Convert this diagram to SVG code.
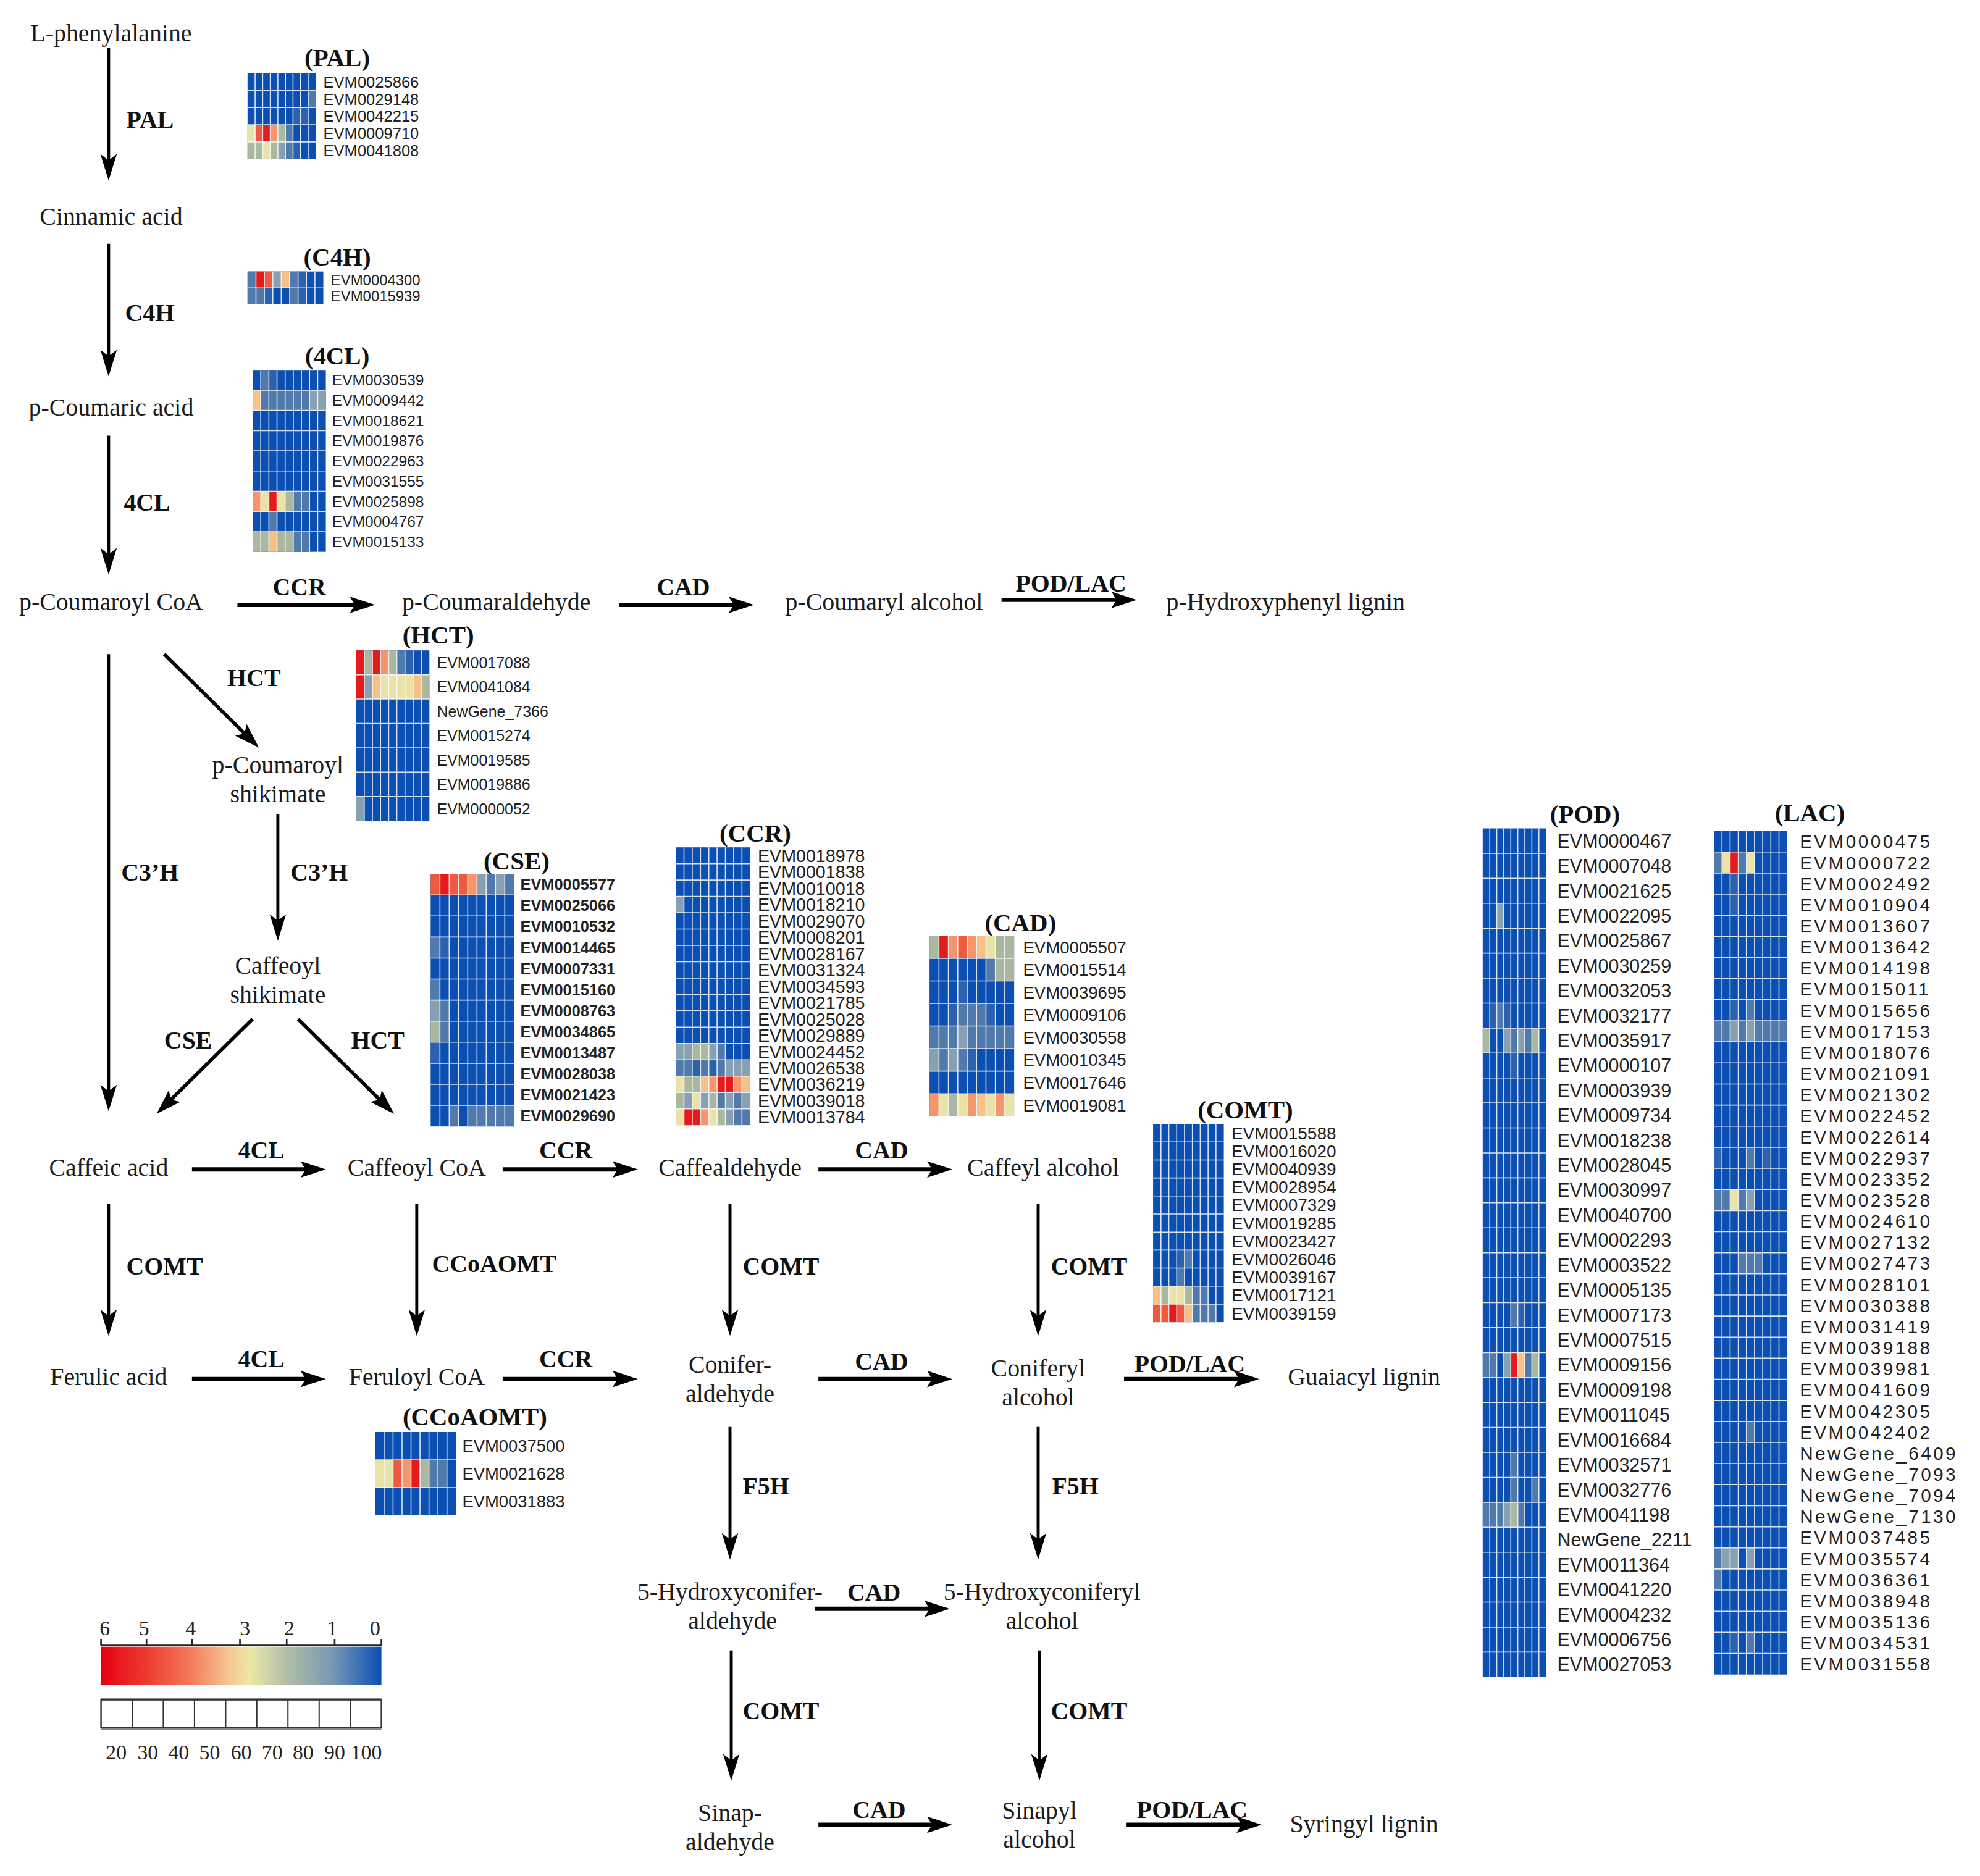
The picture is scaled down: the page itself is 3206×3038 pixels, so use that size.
<svg xmlns="http://www.w3.org/2000/svg" width="3206" height="3038" viewBox="0 0 3206 3038">
<style>
.n{font-family:"Liberation Serif","Times New Roman",serif;font-size:19.5px;fill:#1c1c1c;text-anchor:middle}
.e{font-family:"Liberation Serif","Times New Roman",serif;font-weight:bold;font-size:19.5px;fill:#111}
.ec{text-anchor:middle}
.t{font-family:"Liberation Serif","Times New Roman",serif;font-weight:bold;font-size:20px;fill:#111;text-anchor:middle}
.gl{font-family:"Liberation Sans",Arial,sans-serif;fill:#222}
.lg{font-family:"Liberation Serif","Times New Roman",serif;font-size:16.5px;fill:#222;text-anchor:middle}
.ah{stroke:#000;stroke-width:3.4;fill:none;marker-end:url(#mh)}
.ad{stroke:#000;stroke-width:2.8;fill:none;marker-end:url(#mh)}
.av{stroke:#000;stroke-width:2.4;fill:none;marker-end:url(#mv)}
.grid{fill:none;stroke:#fff;stroke-opacity:0.85;stroke-width:1.6;vector-effect:non-scaling-stroke}
.a{fill:#0b4fb3}.b{fill:#2c61ad}.m{fill:#5079ac}.g{fill:#87a0b2}.s{fill:#abb8a0}.y{fill:#e9e3a8}.o{fill:#f6c189}.q{fill:#f4956b}.x{fill:#ee5a3f}.r{fill:#e41a1c}
</style>
<defs>
<marker id="mh" markerUnits="userSpaceOnUse" orient="auto" overflow="visible" refX="0" refY="0" markerWidth="1" markerHeight="1">
<path d="M13,0 L-7,-6.5 L-3,0 L-7,6.5 Z" fill="#000"/>
</marker>
<marker id="mv" markerUnits="userSpaceOnUse" orient="auto" overflow="visible" refX="0" refY="0" markerWidth="1" markerHeight="1">
<path d="M12,0 L-9,-6.5 L-4,0 L-9,6.5 Z" fill="#000"/>
</marker>
<linearGradient id="lgGrad" x1="0" y1="0" x2="1" y2="0">
<stop offset="0" stop-color="#e60012"/>
<stop offset="0.16" stop-color="#ee3a30"/>
<stop offset="0.32" stop-color="#f47a5a"/>
<stop offset="0.45" stop-color="#f5c490"/>
<stop offset="0.53" stop-color="#ece8a6"/>
<stop offset="0.66" stop-color="#b2bfa8"/>
<stop offset="0.83" stop-color="#7596b4"/>
<stop offset="1" stop-color="#0a50b4"/>
</linearGradient>
</defs>
<rect width="3206" height="3038" fill="#fff"/>
<g transform="scale(2.045)">

<g id="connectors">
<line class="av" x1="86" y1="38" x2="86" y2="131"/>
<line class="av" x1="86" y1="193" x2="86" y2="286"/>
<line class="av" x1="86" y1="345" x2="86" y2="443"/>
<line class="ah" x1="188" y1="479" x2="284" y2="479"/>
<line class="ah" x1="490" y1="479" x2="584" y2="479"/>
<line class="ah" x1="793" y1="475" x2="887" y2="475"/>
<line class="av" x1="86" y1="518" x2="86" y2="868"/>
<line class="ad" x1="130" y1="518" x2="195.75" y2="582.87"/>
<line class="av" x1="220" y1="645" x2="220" y2="733"/>
<line class="ad" x1="200" y1="807" x2="133.25" y2="872.87"/>
<line class="ad" x1="236" y1="807" x2="302.75" y2="872.87"/>
<line class="ah" x1="152" y1="926" x2="245" y2="926"/>
<line class="ah" x1="398" y1="926" x2="492" y2="926"/>
<line class="ah" x1="648" y1="926" x2="741" y2="926"/>
<line class="av" x1="86" y1="953" x2="86" y2="1046"/>
<line class="av" x1="330" y1="953" x2="330" y2="1046"/>
<line class="av" x1="578" y1="953" x2="578" y2="1046"/>
<line class="av" x1="822" y1="953" x2="822" y2="1046"/>
<line class="ah" x1="152" y1="1092" x2="245" y2="1092"/>
<line class="ah" x1="398" y1="1092" x2="492" y2="1092"/>
<line class="ah" x1="648" y1="1092" x2="741" y2="1092"/>
<line class="ah" x1="890" y1="1092" x2="984" y2="1092"/>
<line class="av" x1="578" y1="1130" x2="578" y2="1223"/>
<line class="av" x1="822" y1="1130" x2="822" y2="1223"/>
<line class="ah" x1="645" y1="1274" x2="739" y2="1274"/>
<line class="av" x1="579" y1="1307" x2="579" y2="1398"/>
<line class="av" x1="823" y1="1307" x2="823" y2="1398"/>
<line class="ah" x1="648" y1="1445" x2="741" y2="1445"/>
<line class="ah" x1="892" y1="1445" x2="986" y2="1445"/>
<g id="edge-labels">
<text class="e" x="100" y="101">PAL</text>
<text class="e" x="99" y="254.5">C4H</text>
<text class="e" x="98" y="404.5">4CL</text>
<text class="e ec" x="237" y="471.5">CCR</text>
<text class="e ec" x="541" y="471.5">CAD</text>
<text class="e ec" x="848" y="468.5">POD/LAC</text>
<text class="e" x="180" y="543.5">HCT</text>
<text class="e" x="96" y="697.5">C3’H</text>
<text class="e" x="230" y="697.5">C3’H</text>
<text class="e" x="130" y="830.5">CSE</text>
<text class="e" x="278" y="830.5">HCT</text>
<text class="e ec" x="207" y="917.5">4CL</text>
<text class="e ec" x="448" y="917.5">CCR</text>
<text class="e ec" x="698" y="917.5">CAD</text>
<text class="e" x="100" y="1009.5">COMT</text>
<text class="e" x="342" y="1007.5">CCoAOMT</text>
<text class="e" x="588" y="1009.5">COMT</text>
<text class="e" x="832" y="1009.5">COMT</text>
<text class="e ec" x="207" y="1082.5">4CL</text>
<text class="e ec" x="448" y="1082.5">CCR</text>
<text class="e ec" x="698" y="1084.5">CAD</text>
<text class="e ec" x="942" y="1086.5">POD/LAC</text>
<text class="e" x="588" y="1183.5">F5H</text>
<text class="e" x="833" y="1183.5">F5H</text>
<text class="e ec" x="692" y="1267.5">CAD</text>
<text class="e" x="588" y="1361.5">COMT</text>
<text class="e" x="832" y="1361.5">COMT</text>
<text class="e ec" x="696" y="1439.5">CAD</text>
<text class="e ec" x="944" y="1439.5">POD/LAC</text>
</g>
</g>

<g id="node-lphe"><text class="n" x="88" y="33">L-phenylalanine</text></g>
<g id="node-cinnamic"><text class="n" x="88" y="178">Cinnamic acid</text></g>
<g id="node-pcoumaric"><text class="n" x="88" y="329">p-Coumaric acid</text></g>
<g id="node-pcoumaroylcoa"><text class="n" x="88" y="483">p-Coumaroyl CoA</text></g>
<g id="node-pcoumaraldehyde"><text class="n" x="393" y="483">p-Coumaraldehyde</text></g>
<g id="node-pcoumarylalcohol"><text class="n" x="700" y="483">p-Coumaryl alcohol</text></g>
<g id="node-hlignin"><text class="n" x="1018" y="483">p-Hydroxyphenyl lignin</text></g>
<g id="node-pcoumaroylshik"><text class="n" x="220" y="612">p-Coumaroyl</text><text class="n" x="220" y="635">shikimate</text></g>
<g id="node-caffeoylshik"><text class="n" x="220" y="771">Caffeoyl</text><text class="n" x="220" y="794">shikimate</text></g>
<g id="node-caffeic"><text class="n" x="86" y="931">Caffeic acid</text></g>
<g id="node-caffeoylcoa"><text class="n" x="330" y="931">Caffeoyl CoA</text></g>
<g id="node-caffealdehyde"><text class="n" x="578" y="931">Caffealdehyde</text></g>
<g id="node-caffeylalcohol"><text class="n" x="826" y="931">Caffeyl alcohol</text></g>
<g id="node-ferulic"><text class="n" x="86" y="1097">Ferulic acid</text></g>
<g id="node-feruloylcoa"><text class="n" x="330" y="1097">Feruloyl CoA</text></g>
<g id="node-coniferaldehyde"><text class="n" x="578" y="1087">Conifer-</text><text class="n" x="578" y="1110">aldehyde</text></g>
<g id="node-coniferylalcohol"><text class="n" x="822" y="1090">Coniferyl</text><text class="n" x="822" y="1113">alcohol</text></g>
<g id="node-glignin"><text class="n" x="1080" y="1097">Guaiacyl lignin</text></g>
<g id="node-5hconiferaldehyde"><text class="n" x="578" y="1267">5-Hydroxyconifer-</text><text class="n" x="580" y="1290">aldehyde</text></g>
<g id="node-5hconiferylalcohol"><text class="n" x="825" y="1267">5-Hydroxyconiferyl</text><text class="n" x="825" y="1290">alcohol</text></g>
<g id="node-sinapaldehyde"><text class="n" x="578" y="1442">Sinap-</text><text class="n" x="578" y="1465">aldehyde</text></g>
<g id="node-sinapylalcohol"><text class="n" x="823" y="1440">Sinapyl</text><text class="n" x="823" y="1463">alcohol</text></g>
<g id="node-slignin"><text class="n" x="1080" y="1451">Syringyl lignin</text></g>

<!-- PAL heatmap -->
<g id="heatmap-PAL">
<text class="t" x="267" y="52.5">(PAL)</text>
<g transform="translate(196,58) scale(6,13.6)">
<rect class="a" width="9" height="5"/>
<rect class="m" x="8" y="1" width="1" height="1"/>
<rect class="b" x="6" y="2" width="2" height="1"/>
<rect class="y" x="0" y="3" width="1" height="1"/><rect class="x" x="1" y="3" width="1" height="1"/><rect class="r" x="2" y="3" width="1" height="1"/><rect class="q" x="3" y="3" width="1" height="1"/><rect class="s" x="4" y="3" width="1" height="1"/><rect class="m" x="5" y="3" width="1" height="1"/>
<rect class="s" x="0" y="4" width="2" height="1"/><rect class="y" x="2" y="4" width="1" height="1"/><rect class="s" x="3" y="4" width="1" height="1"/><rect class="g" x="4" y="4" width="1" height="1"/><rect class="m" x="5" y="4" width="1" height="1"/><rect class="b" x="6" y="4" width="1" height="1"/>
<path class="grid" d="M1 0V5M2 0V5M3 0V5M4 0V5M5 0V5M6 0V5M7 0V5M8 0V5M0 1H9M0 2H9M0 3H9M0 4H9"/>
</g>
<text class="gl" font-size="12.5">
<tspan x="256" y="69.3">EVM0025866</tspan><tspan x="256" y="82.9">EVM0029148</tspan><tspan x="256" y="96.5">EVM0042215</tspan><tspan x="256" y="110.1">EVM0009710</tspan><tspan x="256" y="123.7">EVM0041808</tspan>
</text>
</g>

<!-- C4H heatmap -->
<g id="heatmap-C4H">
<text class="t" x="267" y="210.5">(C4H)</text>
<g transform="translate(196,215) scale(6.667,13)">
<rect class="a" width="9" height="2"/>
<rect class="m" x="0" y="0" width="1" height="1"/><rect class="r" x="1" y="0" width="1" height="1"/><rect class="x" x="2" y="0" width="1" height="1"/><rect class="g" x="3" y="0" width="1" height="1"/><rect class="o" x="4" y="0" width="1" height="1"/><rect class="m" x="5" y="0" width="1" height="1"/><rect class="b" x="6" y="0" width="1" height="1"/>
<rect class="m" x="0" y="1" width="2" height="1"/><rect class="b" x="2" y="1" width="1" height="1"/><rect class="m" x="5" y="1" width="1" height="1"/><rect class="b" x="6" y="1" width="1" height="1"/>
<path class="grid" d="M1 0V2M2 0V2M3 0V2M4 0V2M5 0V2M6 0V2M7 0V2M8 0V2M0 1H9"/>
</g>
<text class="gl" font-size="11.7">
<tspan x="262" y="225.7">EVM0004300</tspan><tspan x="262" y="238.7">EVM0015939</tspan>
</text>
</g>

<!-- 4CL heatmap -->
<g id="heatmap-4CL">
<text class="t" x="267" y="288.5">(4CL)</text>
<g transform="translate(200,293) scale(6.444,16)">
<rect class="a" width="9" height="9"/>
<rect class="m" x="1" y="0" width="1" height="1"/><rect class="b" x="2" y="0" width="1" height="1"/>
<rect class="o" x="0" y="1" width="1" height="1"/><rect class="m" x="1" y="1" width="6" height="1"/><rect class="g" x="7" y="1" width="2" height="1"/>
<rect class="q" x="0" y="6" width="1" height="1"/><rect class="y" x="1" y="6" width="1" height="1"/><rect class="r" x="2" y="6" width="1" height="1"/><rect class="y" x="3" y="6" width="1" height="1"/><rect class="s" x="4" y="6" width="1" height="1"/><rect class="m" x="5" y="6" width="2" height="1"/>
<rect class="m" x="2" y="7" width="1" height="1"/>
<rect class="s" x="0" y="8" width="2" height="1"/><rect class="o" x="2" y="8" width="1" height="1"/><rect class="s" x="3" y="8" width="2" height="1"/><rect class="m" x="5" y="8" width="2" height="1"/>
<path class="grid" d="M1 0V9M2 0V9M3 0V9M4 0V9M5 0V9M6 0V9M7 0V9M8 0V9M0 1H9M0 2H9M0 3H9M0 4H9M0 5H9M0 6H9M0 7H9M0 8H9"/>
</g>
<text class="gl" font-size="12">
<tspan x="263" y="305.3">EVM0030539</tspan><tspan x="263" y="321.3">EVM0009442</tspan><tspan x="263" y="337.3">EVM0018621</tspan><tspan x="263" y="353.3">EVM0019876</tspan><tspan x="263" y="369.3">EVM0022963</tspan><tspan x="263" y="385.3">EVM0031555</tspan><tspan x="263" y="401.3">EVM0025898</tspan><tspan x="263" y="417.3">EVM0004767</tspan><tspan x="263" y="433.3">EVM0015133</tspan>
</text>
</g>

<!-- HCT heatmap -->
<g id="heatmap-HCT">
<text class="t" x="347" y="509.5">(HCT)</text>
<g transform="translate(282,515) scale(6.444,19.286)">
<rect class="a" width="9" height="7"/>
<rect class="r" x="0" y="0" width="1" height="1"/><rect class="s" x="1" y="0" width="1" height="1"/><rect class="r" x="2" y="0" width="1" height="1"/><rect class="q" x="3" y="0" width="1" height="1"/><rect class="s" x="4" y="0" width="1" height="1"/><rect class="m" x="5" y="0" width="1" height="1"/><rect class="b" x="6" y="0" width="1" height="1"/>
<rect class="r" x="0" y="1" width="1" height="1"/><rect class="g" x="1" y="1" width="1" height="1"/><rect class="o" x="2" y="1" width="1" height="1"/><rect class="y" x="3" y="1" width="4" height="1"/><rect class="o" x="7" y="1" width="1" height="1"/><rect class="s" x="8" y="1" width="1" height="1"/>
<rect class="g" x="0" y="6" width="1" height="1"/>
<path class="grid" d="M1 0V7M2 0V7M3 0V7M4 0V7M5 0V7M6 0V7M7 0V7M8 0V7M0 1H9M0 2H9M0 3H9M0 4H9M0 5H9M0 6H9"/>
</g>
<text class="gl" font-size="12.2">
<tspan x="346" y="529">EVM0017088</tspan><tspan x="346" y="548.3">EVM0041084</tspan><tspan x="346" y="567.6">NewGene_7366</tspan><tspan x="346" y="586.9">EVM0015274</tspan><tspan x="346" y="606.2">EVM0019585</tspan><tspan x="346" y="625.5">EVM0019886</tspan><tspan x="346" y="644.8">EVM0000052</tspan>
</text>
</g>

<!-- CSE heatmap -->
<g id="heatmap-CSE">
<text class="t" x="409" y="688.5">(CSE)</text>
<g transform="translate(341,692) scale(7.333,16.667)">
<rect class="a" width="9" height="12"/>
<rect class="x" x="0" y="0" width="1" height="1"/><rect class="r" x="1" y="0" width="1" height="1"/><rect class="x" x="2" y="0" width="2" height="1"/><rect class="q" x="4" y="0" width="1" height="1"/><rect class="g" x="5" y="0" width="1" height="1"/><rect class="m" x="6" y="0" width="1" height="1"/><rect class="g" x="7" y="0" width="1" height="1"/><rect class="m" x="8" y="0" width="1" height="1"/>
<rect class="m" x="0" y="3" width="1" height="1"/><rect class="b" x="1" y="3" width="1" height="1"/>
<rect class="m" x="0" y="5" width="1" height="1"/>
<rect class="g" x="0" y="6" width="1" height="1"/><rect class="m" x="1" y="6" width="1" height="1"/>
<rect class="s" x="0" y="7" width="1" height="1"/><rect class="m" x="1" y="7" width="1" height="1"/>
<rect class="b" x="0" y="8" width="1" height="1"/>
<rect class="m" x="2" y="11" width="1" height="1"/><rect class="m" x="4" y="11" width="5" height="1"/>
<path class="grid" d="M1 0V12M2 0V12M3 0V12M4 0V12M5 0V12M6 0V12M7 0V12M8 0V12M0 1H9M0 2H9M0 3H9M0 4H9M0 5H9M0 6H9M0 7H9M0 8H9M0 9H9M0 10H9M0 11H9"/>
</g>
<text class="gl" font-size="12.4" font-weight="bold">
<tspan x="412" y="704.8">EVM0005577</tspan><tspan x="412" y="721.5">EVM0025066</tspan><tspan x="412" y="738.1">EVM0010532</tspan><tspan x="412" y="754.8">EVM0014465</tspan><tspan x="412" y="771.5">EVM0007331</tspan><tspan x="412" y="788.2">EVM0015160</tspan><tspan x="412" y="804.8">EVM0008763</tspan><tspan x="412" y="821.5">EVM0034865</tspan><tspan x="412" y="838.2">EVM0013487</tspan><tspan x="412" y="854.8">EVM0028038</tspan><tspan x="412" y="871.5">EVM0021423</tspan><tspan x="412" y="888.2">EVM0029690</tspan>
</text>
</g>

<!-- CCR heatmap -->
<g id="heatmap-CCR">
<text class="t" x="598" y="666.5">(CCR)</text>
<g transform="translate(535,671) scale(6.556,12.941)">
<rect class="a" width="9" height="17"/>
<rect class="g" x="0" y="3" width="1" height="1"/>
<rect class="g" x="0" y="12" width="2" height="1"/><rect class="s" x="2" y="12" width="2" height="1"/><rect class="g" x="4" y="12" width="1" height="1"/><rect class="m" x="5" y="12" width="1" height="1"/>
<rect class="m" x="0" y="13" width="2" height="1"/><rect class="b" x="2" y="13" width="1" height="1"/><rect class="m" x="3" y="13" width="1" height="1"/><rect class="b" x="4" y="13" width="1" height="1"/><rect class="m" x="5" y="13" width="1" height="1"/><rect class="g" x="6" y="13" width="3" height="1"/>
<rect class="y" x="0" y="14" width="1" height="1"/><rect class="s" x="1" y="14" width="2" height="1"/><rect class="o" x="3" y="14" width="1" height="1"/><rect class="q" x="4" y="14" width="1" height="1"/><rect class="r" x="5" y="14" width="2" height="1"/><rect class="q" x="7" y="14" width="1" height="1"/><rect class="o" x="8" y="14" width="1" height="1"/>
<rect class="s" x="0" y="15" width="1" height="1"/><rect class="g" x="1" y="15" width="1" height="1"/><rect class="y" x="2" y="15" width="1" height="1"/><rect class="g" x="3" y="15" width="1" height="1"/><rect class="s" x="4" y="15" width="1" height="1"/><rect class="m" x="5" y="15" width="1" height="1"/><rect class="g" x="6" y="15" width="1" height="1"/><rect class="m" x="7" y="15" width="1" height="1"/><rect class="g" x="8" y="15" width="1" height="1"/>
<rect class="y" x="0" y="16" width="1" height="1"/><rect class="r" x="1" y="16" width="2" height="1"/><rect class="q" x="3" y="16" width="1" height="1"/><rect class="y" x="4" y="16" width="1" height="1"/><rect class="s" x="5" y="16" width="1" height="1"/><rect class="g" x="6" y="16" width="1" height="1"/><rect class="m" x="7" y="16" width="2" height="1"/>
<path class="grid" d="M1 0V17M2 0V17M3 0V17M4 0V17M5 0V17M6 0V17M7 0V17M8 0V17M0 1H9M0 2H9M0 3H9M0 4H9M0 5H9M0 6H9M0 7H9M0 8H9M0 9H9M0 10H9M0 11H9M0 12H9M0 13H9M0 14H9M0 15H9M0 16H9"/>
</g>
<text class="gl" font-size="14">
<tspan x="600" y="682.6">EVM0018978</tspan><tspan x="600" y="695.5">EVM0001838</tspan><tspan x="600" y="708.5">EVM0010018</tspan><tspan x="600" y="721.4">EVM0018210</tspan><tspan x="600" y="734.4">EVM0029070</tspan><tspan x="600" y="747.3">EVM0008201</tspan><tspan x="600" y="760.2">EVM0028167</tspan><tspan x="600" y="773.2">EVM0031324</tspan><tspan x="600" y="786.1">EVM0034593</tspan><tspan x="600" y="799.1">EVM0021785</tspan><tspan x="600" y="812">EVM0025028</tspan><tspan x="600" y="824.9">EVM0029889</tspan><tspan x="600" y="837.9">EVM0024452</tspan><tspan x="600" y="850.8">EVM0026538</tspan><tspan x="600" y="863.8">EVM0036219</tspan><tspan x="600" y="876.7">EVM0039018</tspan><tspan x="600" y="889.6">EVM0013784</tspan>
</text>
</g>

<!-- CAD heatmap -->
<g id="heatmap-CAD">
<text class="t" x="808" y="737.5">(CAD)</text>
<g transform="translate(736,741) scale(7.444,17.875)">
<rect class="a" width="9" height="8"/>
<rect class="s" x="0" y="0" width="1" height="1"/><rect class="r" x="1" y="0" width="1" height="1"/><rect class="q" x="2" y="0" width="1" height="1"/><rect class="x" x="3" y="0" width="1" height="1"/><rect class="q" x="4" y="0" width="1" height="1"/><rect class="o" x="5" y="0" width="1" height="1"/><rect class="y" x="6" y="0" width="1" height="1"/><rect class="s" x="7" y="0" width="2" height="1"/>
<rect class="m" x="6" y="1" width="1" height="1"/><rect class="s" x="7" y="1" width="2" height="1"/>
<rect class="b" x="3" y="2" width="1" height="1"/>
<rect class="b" x="2" y="3" width="1" height="1"/><rect class="m" x="3" y="3" width="3" height="1"/><rect class="b" x="6" y="3" width="1" height="1"/>
<rect class="m" x="0" y="4" width="9" height="1"/><rect class="g" x="3" y="4" width="1" height="1"/>
<rect class="g" x="0" y="5" width="1" height="1"/><rect class="m" x="1" y="5" width="1" height="1"/><rect class="g" x="2" y="5" width="1" height="1"/><rect class="m" x="3" y="5" width="1" height="1"/><rect class="b" x="4" y="5" width="1" height="1"/>
<rect class="q" x="0" y="7" width="1" height="1"/><rect class="y" x="1" y="7" width="1" height="1"/><rect class="s" x="2" y="7" width="1" height="1"/><rect class="y" x="3" y="7" width="1" height="1"/><rect class="q" x="4" y="7" width="1" height="1"/><rect class="o" x="5" y="7" width="1" height="1"/><rect class="y" x="6" y="7" width="1" height="1"/><rect class="q" x="7" y="7" width="1" height="1"/><rect class="y" x="8" y="7" width="1" height="1"/>
<path class="grid" d="M1 0V8M2 0V8M3 0V8M4 0V8M5 0V8M6 0V8M7 0V8M8 0V8M0 1H9M0 2H9M0 3H9M0 4H9M0 5H9M0 6H9M0 7H9"/>
</g>
<text class="gl" font-size="13.5">
<tspan x="810" y="754.8">EVM0005507</tspan><tspan x="810" y="772.7">EVM0015514</tspan><tspan x="810" y="790.6">EVM0039695</tspan><tspan x="810" y="808.5">EVM0009106</tspan><tspan x="810" y="826.3">EVM0030558</tspan><tspan x="810" y="844.2">EVM0010345</tspan><tspan x="810" y="862.1">EVM0017646</tspan><tspan x="810" y="880">EVM0019081</tspan>
</text>
</g>

<!-- COMT heatmap -->
<g id="heatmap-COMT">
<text class="t" x="986" y="885.5">(COMT)</text>
<g transform="translate(913,890) scale(6.222,14.273)">
<rect class="a" width="9" height="11"/>
<rect class="b" x="3" y="7" width="1" height="1"/><rect class="m" x="4" y="7" width="1" height="1"/>
<rect class="m" x="3" y="8" width="1" height="1"/>
<rect class="o" x="0" y="9" width="1" height="1"/><rect class="s" x="1" y="9" width="1" height="1"/><rect class="y" x="2" y="9" width="2" height="1"/><rect class="s" x="4" y="9" width="1" height="1"/><rect class="m" x="5" y="9" width="2" height="1"/>
<rect class="x" x="0" y="10" width="2" height="1"/><rect class="r" x="2" y="10" width="1" height="1"/><rect class="x" x="3" y="10" width="1" height="1"/><rect class="o" x="4" y="10" width="1" height="1"/><rect class="m" x="5" y="10" width="3" height="1"/>
<path class="grid" d="M1 0V11M2 0V11M3 0V11M4 0V11M5 0V11M6 0V11M7 0V11M8 0V11M0 1H9M0 2H9M0 3H9M0 4H9M0 5H9M0 6H9M0 7H9M0 8H9M0 9H9M0 10H9"/>
</g>
<text class="gl" font-size="13.7">
<tspan x="975" y="902">EVM0015588</tspan><tspan x="975" y="916.3">EVM0016020</tspan><tspan x="975" y="930.6">EVM0040939</tspan><tspan x="975" y="944.9">EVM0028954</tspan><tspan x="975" y="959.1">EVM0007329</tspan><tspan x="975" y="973.4">EVM0019285</tspan><tspan x="975" y="987.7">EVM0023427</tspan><tspan x="975" y="1002">EVM0026046</tspan><tspan x="975" y="1016.2">EVM0039167</tspan><tspan x="975" y="1030.5">EVM0017121</tspan><tspan x="975" y="1044.8">EVM0039159</tspan>
</text>
</g>

<!-- CCoAOMT heatmap -->
<g id="heatmap-CCoAOMT">
<text class="t" x="376" y="1128.5">(CCoAOMT)</text>
<g transform="translate(297,1134) scale(7.111,22)">
<rect class="a" width="9" height="3"/>
<rect class="y" x="0" y="1" width="2" height="1"/><rect class="x" x="2" y="1" width="1" height="1"/><rect class="q" x="3" y="1" width="1" height="1"/><rect class="r" x="4" y="1" width="1" height="1"/><rect class="s" x="5" y="1" width="1" height="1"/><rect class="m" x="6" y="1" width="2" height="1"/>
<path class="grid" d="M1 0V3M2 0V3M3 0V3M4 0V3M5 0V3M6 0V3M7 0V3M8 0V3M0 1H9M0 2H9"/>
</g>
<text class="gl" font-size="13.4">
<tspan x="366" y="1149.8">EVM0037500</tspan><tspan x="366" y="1171.8">EVM0021628</tspan><tspan x="366" y="1193.8">EVM0031883</tspan>
</text>
</g>

<!-- POD heatmap -->
<g id="heatmap-POD">
<text class="t" x="1255" y="651.5">(POD)</text>
<g transform="translate(1174,656) scale(5.556,19.765)">
<rect class="a" width="9" height="34"/>
<rect class="g" x="2" y="3" width="1" height="1"/>
<rect class="b" x="1" y="7" width="1" height="1"/><rect class="m" x="2" y="7" width="1" height="1"/><rect class="b" x="3" y="7" width="1" height="1"/>
<rect class="s" x="0" y="8" width="1" height="1"/><rect class="g" x="3" y="8" width="1" height="1"/><rect class="m" x="4" y="8" width="1" height="1"/><rect class="g" x="5" y="8" width="1" height="1"/><rect class="m" x="6" y="8" width="1" height="1"/><rect class="s" x="7" y="8" width="1" height="1"/>
<rect class="b" x="4" y="9" width="1" height="1"/>
<rect class="m" x="4" y="19" width="1" height="1"/><rect class="b" x="5" y="19" width="1" height="1"/>
<rect class="m" x="0" y="21" width="2" height="1"/><rect class="g" x="3" y="21" width="1" height="1"/><rect class="r" x="4" y="21" width="1" height="1"/><rect class="o" x="5" y="21" width="1" height="1"/><rect class="m" x="6" y="21" width="1" height="1"/><rect class="s" x="7" y="21" width="1" height="1"/>
<rect class="m" x="4" y="25" width="1" height="1"/>
<rect class="m" x="4" y="26" width="1" height="1"/><rect class="m" x="7" y="26" width="1" height="1"/>
<rect class="m" x="0" y="27" width="3" height="1"/><rect class="g" x="3" y="27" width="1" height="1"/><rect class="s" x="4" y="27" width="1" height="1"/><rect class="m" x="5" y="27" width="1" height="1"/>
<path class="grid" d="M1 0V34M2 0V34M3 0V34M4 0V34M5 0V34M6 0V34M7 0V34M8 0V34M0 1H9M0 2H9M0 3H9M0 4H9M0 5H9M0 6H9M0 7H9M0 8H9M0 9H9M0 10H9M0 11H9M0 12H9M0 13H9M0 14H9M0 15H9M0 16H9M0 17H9M0 18H9M0 19H9M0 20H9M0 21H9M0 22H9M0 23H9M0 24H9M0 25H9M0 26H9M0 27H9M0 28H9M0 29H9M0 30H9M0 31H9M0 32H9M0 33H9"/>
</g>
<text class="gl" font-size="14.9">
<tspan x="1233" y="671.3">EVM0000467</tspan><tspan x="1233" y="691.1">EVM0007048</tspan><tspan x="1233" y="710.8">EVM0021625</tspan><tspan x="1233" y="730.6">EVM0022095</tspan><tspan x="1233" y="750.3">EVM0025867</tspan><tspan x="1233" y="770.1">EVM0030259</tspan><tspan x="1233" y="789.9">EVM0032053</tspan><tspan x="1233" y="809.6">EVM0032177</tspan><tspan x="1233" y="829.4">EVM0035917</tspan><tspan x="1233" y="849.1">EVM0000107</tspan><tspan x="1233" y="868.9">EVM0003939</tspan><tspan x="1233" y="888.7">EVM0009734</tspan><tspan x="1233" y="908.4">EVM0018238</tspan><tspan x="1233" y="928.2">EVM0028045</tspan><tspan x="1233" y="947.9">EVM0030997</tspan><tspan x="1233" y="967.7">EVM0040700</tspan><tspan x="1233" y="987.5">EVM0002293</tspan><tspan x="1233" y="1007.2">EVM0003522</tspan><tspan x="1233" y="1027">EVM0005135</tspan><tspan x="1233" y="1046.7">EVM0007173</tspan><tspan x="1233" y="1066.5">EVM0007515</tspan><tspan x="1233" y="1086.3">EVM0009156</tspan><tspan x="1233" y="1106">EVM0009198</tspan><tspan x="1233" y="1125.8">EVM0011045</tspan><tspan x="1233" y="1145.5">EVM0016684</tspan><tspan x="1233" y="1165.3">EVM0032571</tspan><tspan x="1233" y="1185.1">EVM0032776</tspan><tspan x="1233" y="1204.8">EVM0041198</tspan><tspan x="1233" y="1224.6">NewGene_2211</tspan><tspan x="1233" y="1244.3">EVM0011364</tspan><tspan x="1233" y="1264.1">EVM0041220</tspan><tspan x="1233" y="1283.9">EVM0004232</tspan><tspan x="1233" y="1303.6">EVM0006756</tspan><tspan x="1233" y="1323.4">EVM0027053</tspan>
</text>
</g>

<!-- LAC heatmap -->
<g id="heatmap-LAC">
<text class="t" x="1433" y="650.5">(LAC)</text>
<g transform="translate(1357,658) scale(6.444,16.7)">
<rect class="a" width="9" height="40"/>
<rect class="m" x="0" y="1" width="1" height="1"/><rect class="y" x="1" y="1" width="1" height="1"/><rect class="r" x="2" y="1" width="1" height="1"/><rect class="m" x="3" y="1" width="1" height="1"/><rect class="y" x="4" y="1" width="1" height="1"/>
<rect class="b" x="2" y="2" width="1" height="1"/>
<rect class="b" x="2" y="3" width="1" height="1"/>
<rect class="b" x="2" y="8" width="1" height="1"/><rect class="m" x="4" y="8" width="1" height="1"/>
<rect class="m" x="0" y="9" width="9" height="1"/><rect class="g" x="2" y="9" width="1" height="1"/><rect class="g" x="4" y="9" width="1" height="1"/>
<rect class="b" x="0" y="15" width="1" height="1"/><rect class="m" x="4" y="15" width="1" height="1"/><rect class="b" x="6" y="15" width="1" height="1"/>
<rect class="m" x="0" y="17" width="2" height="1"/><rect class="y" x="2" y="17" width="1" height="1"/><rect class="m" x="3" y="17" width="1" height="1"/><rect class="g" x="4" y="17" width="1" height="1"/>
<rect class="m" x="3" y="20" width="3" height="1"/>
<rect class="m" x="4" y="28" width="1" height="1"/>
<rect class="m" x="0" y="34" width="1" height="1"/><rect class="g" x="1" y="34" width="2" height="1"/><rect class="g" x="4" y="34" width="1" height="1"/>
<rect class="m" x="0" y="35" width="1" height="1"/>
<rect class="b" x="2" y="38" width="1" height="1"/><rect class="m" x="4" y="38" width="1" height="1"/>
<path class="grid" d="M1 0V40M2 0V40M3 0V40M4 0V40M5 0V40M6 0V40M7 0V40M8 0V40M0 1H9M0 2H9M0 3H9M0 4H9M0 5H9M0 6H9M0 7H9M0 8H9M0 9H9M0 10H9M0 11H9M0 12H9M0 13H9M0 14H9M0 15H9M0 16H9M0 17H9M0 18H9M0 19H9M0 20H9M0 21H9M0 22H9M0 23H9M0 24H9M0 25H9M0 26H9M0 27H9M0 28H9M0 29H9M0 30H9M0 31H9M0 32H9M0 33H9M0 34H9M0 35H9M0 36H9M0 37H9M0 38H9M0 39H9"/>
</g>
<text class="gl" font-size="14.5" letter-spacing="1.7">
<tspan x="1425" y="671.6">EVM0000475</tspan><tspan x="1425" y="688.3">EVM0000722</tspan><tspan x="1425" y="705">EVM0002492</tspan><tspan x="1425" y="721.7">EVM0010904</tspan><tspan x="1425" y="738.4">EVM0013607</tspan><tspan x="1425" y="755.1">EVM0013642</tspan><tspan x="1425" y="771.8">EVM0014198</tspan><tspan x="1425" y="788.5">EVM0015011</tspan><tspan x="1425" y="805.2">EVM0015656</tspan><tspan x="1425" y="821.9">EVM0017153</tspan><tspan x="1425" y="838.6">EVM0018076</tspan><tspan x="1425" y="855.3">EVM0021091</tspan><tspan x="1425" y="872">EVM0021302</tspan><tspan x="1425" y="888.7">EVM0022452</tspan><tspan x="1425" y="905.4">EVM0022614</tspan><tspan x="1425" y="922.1">EVM0022937</tspan><tspan x="1425" y="938.8">EVM0023352</tspan><tspan x="1425" y="955.5">EVM0023528</tspan><tspan x="1425" y="972.2">EVM0024610</tspan><tspan x="1425" y="988.9">EVM0027132</tspan><tspan x="1425" y="1005.6">EVM0027473</tspan><tspan x="1425" y="1022.3">EVM0028101</tspan><tspan x="1425" y="1039">EVM0030388</tspan><tspan x="1425" y="1055.7">EVM0031419</tspan><tspan x="1425" y="1072.4">EVM0039188</tspan><tspan x="1425" y="1089.1">EVM0039981</tspan><tspan x="1425" y="1105.8">EVM0041609</tspan><tspan x="1425" y="1122.5">EVM0042305</tspan><tspan x="1425" y="1139.2">EVM0042402</tspan><tspan x="1425" y="1155.9">NewGene_6409</tspan><tspan x="1425" y="1172.6">NewGene_7093</tspan><tspan x="1425" y="1189.3">NewGene_7094</tspan><tspan x="1425" y="1206">NewGene_7130</tspan><tspan x="1425" y="1222.7">EVM0037485</tspan><tspan x="1425" y="1239.4">EVM0035574</tspan><tspan x="1425" y="1256.1">EVM0036361</tspan><tspan x="1425" y="1272.8">EVM0038948</tspan><tspan x="1425" y="1289.5">EVM0035136</tspan><tspan x="1425" y="1306.2">EVM0034531</tspan><tspan x="1425" y="1322.9">EVM0031558</tspan>
</text>
</g>

<!-- Legend -->
<g id="legend">
<text class="lg" x="83" y="1295">6</text><text class="lg" x="114" y="1295">5</text><text class="lg" x="151" y="1295">4</text><text class="lg" x="194" y="1295">3</text><text class="lg" x="229" y="1295">2</text><text class="lg" x="263" y="1295">1</text><text class="lg" x="297" y="1295">0</text>
<path d="M80 1303H302M80 1303V1298M116 1303V1298M152 1303V1298M190 1303V1298M227 1303V1298M265 1303V1298M302 1303V1298" fill="none" stroke="#222" stroke-width="1.3"/>
<rect x="80" y="1304" width="222" height="30" fill="url(#lgGrad)"/>
<rect x="80" y="1346" width="222" height="22" fill="#fff" stroke="#333" stroke-width="1.2"/>
<path d="M104.7 1346V1368M129.3 1346V1368M154 1346V1368M178.7 1346V1368M203.3 1346V1368M228 1346V1368M252.7 1346V1368M277.3 1346V1368" fill="none" stroke="#333" stroke-width="1"/>
<path d="M80 1345H302M80 1369H302" fill="none" stroke="#888" stroke-width="1.4"/>
<text class="lg" x="92" y="1393">20</text><text class="lg" x="117" y="1393">30</text><text class="lg" x="141.5" y="1393">40</text><text class="lg" x="166" y="1393">50</text><text class="lg" x="191" y="1393">60</text><text class="lg" x="215.5" y="1393">70</text><text class="lg" x="240" y="1393">80</text><text class="lg" x="265" y="1393">90</text><text class="lg" x="290" y="1393">100</text>
</g>
</g>
</svg>
